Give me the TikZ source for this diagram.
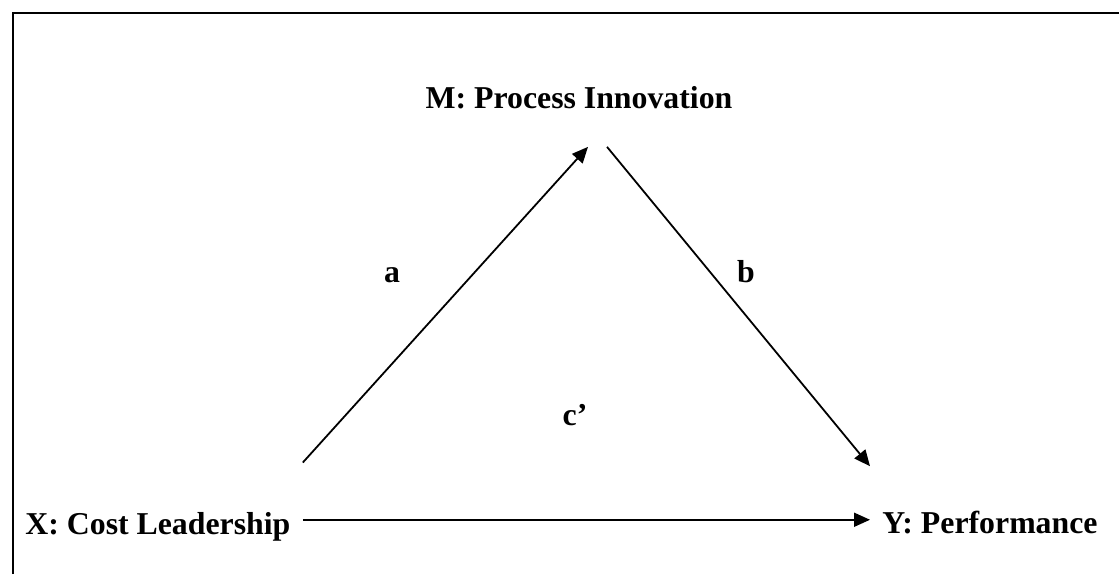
\documentclass[tikz,border=0pt]{standalone}
\usepackage{fontspec}
\setmainfont{Liberation Serif}
\usepackage{xcolor}
\usepackage{tikz}
\usetikzlibrary{arrows.meta,positioning}
\definecolor{tinta}{HTML}{000000}

\begin{document}
\begin{tikzpicture}[
      x=0.5pt, y=-0.5pt,
      var/.style={inner sep=6pt, font=\fontsize{15.9}{19}\selectfont\bfseries, text=tinta},
      etiq/.style={inner sep=0pt, anchor=base, font=\fontsize{15.9}{19}\selectfont\bfseries, text=tinta},
      marco/.style={draw=tinta, line width=1pt},
      flecha/.style={-{Triangle[length=8pt, width=7pt]}, draw=tinta, line width=0.9pt}]

    \useasboundingbox (0,0) rectangle (1119,574);
    \draw[marco] (13,574) |- (1119,13);

    \node[var, anchor=base] (m) at (579,108) {M: Process Innovation};
    \node[var, anchor=base west] (x) at (13,534) {X: Cost Leadership};
    \node[var, anchor=base west] (y) at (870,533) {Y: Performance};

    \node[etiq] (a) at (392,282) {a};
    \node[etiq] (b) at (746,282) {b};
    \node[etiq] (c) at (575,425) {c'};

    \draw[flecha] ([yshift=18.5pt]x.north east) -- ([xshift=4.5pt, yshift=-13pt]m.south);
    \draw[flecha] ([xshift=14pt, yshift=-13pt]m.south) -- ([yshift=16pt]y.north west);
    \draw[flecha] ([yshift=3.3pt]x.east) -- ([yshift=3.3pt]x.east -| y.west);
  \end{tikzpicture}
\end{document}
